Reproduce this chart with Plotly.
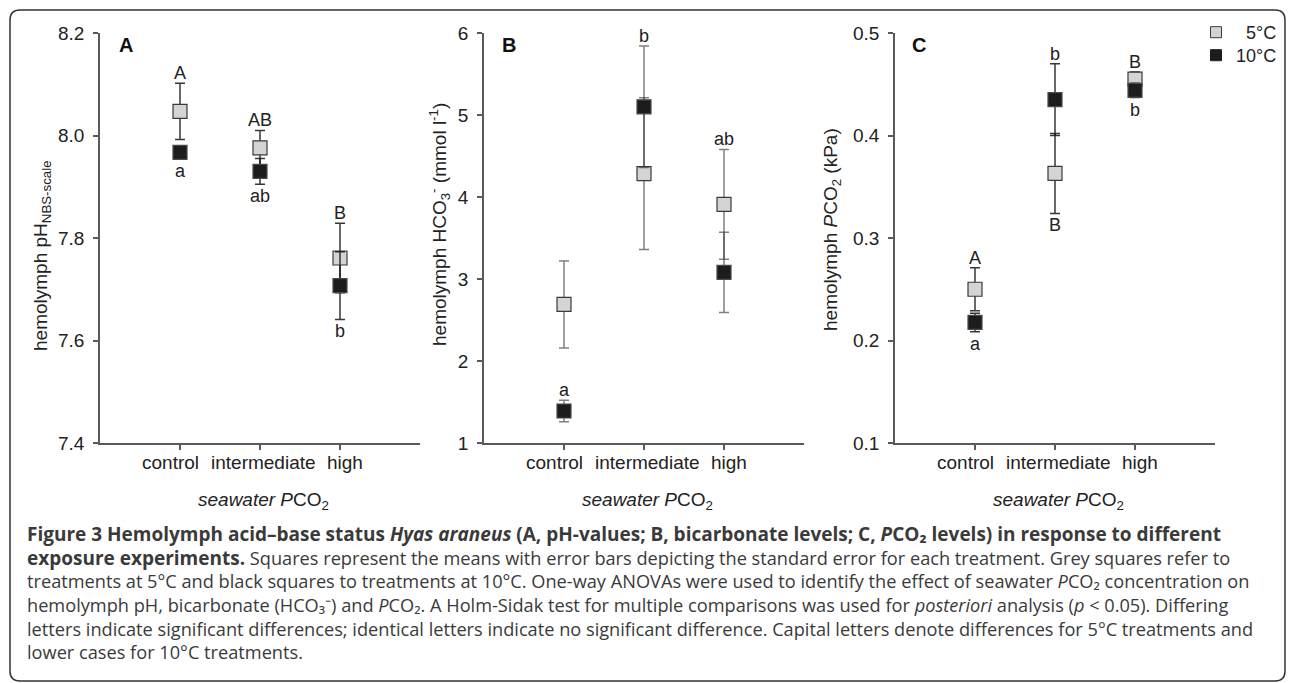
import plotly.graph_objects as go

W, H = 1290, 683

# ---------------- data ----------------
categories = ["control", "intermediate", "high"]
cat_pos = [1, 2, 3]

ph_5 = [8.047, 7.976, 7.761]
ph_5_se = [0.055, 0.034, 0.068]
ph_10 = [7.967, 7.930, 7.707]
ph_10_se = [0.012, 0.025, 0.066]

hco3_5 = [2.69, 4.285, 3.91]
hco3_5_se = [0.53, 0.925, 0.67]
hco3_10 = [1.39, 5.10, 3.08]
hco3_10_se = [0.13, 0.74, 0.49]

pco2_5 = [0.250, 0.363, 0.455]
pco2_5_se = [0.021, 0.039, 0.007]
pco2_10 = [0.2176, 0.435, 0.444]
pco2_10_se = [0.009, 0.035, 0.007]

# significance letters: (series, category index, side, text)
letters_A = [("5", 0, "above", "A"), ("10", 0, "below", "a"),
             ("5", 1, "above", "AB"), ("10", 1, "below", "ab"),
             ("5", 2, "above", "B"), ("10", 2, "below", "b")]
letters_B = [("10", 0, "above", "a"), ("10", 1, "above", "b"),
             ("5", 2, "above", "ab")]
letters_C = [("5", 0, "above", "A"), ("10", 0, "below", "a"),
             ("10", 1, "above", "b"), ("5", 1, "below", "B"),
             ("5", 2, "above", "B"), ("10", 2, "below", "b")]

y_ranges = [[7.4, 8.2], [1, 6], [0.1, 0.5]]
y_ticks = [[7.4, 7.6, 7.8, 8.0, 8.2], [1, 2, 3, 4, 5, 6], [0.1, 0.2, 0.3, 0.4, 0.5]]
y_ticktext = [["7.4", "7.6", "7.8", "8.0", "8.2"], ["1", "2", "3", "4", "5", "6"],
              ["0.1", "0.2", "0.3", "0.4", "0.5"]]
y_titles = ["hemolymph pH<sub>NBS-scale</sub>",
            "hemolymph HCO<sub>3</sub><sup>-</sup> (mmol l<sup>-1</sup>)",
            "hemolymph <i>P</i>CO<sub>2</sub> (kPa)"]
panel_labels = ["A", "B", "C"]
x_title = "<i>seawater P</i>CO<sub>2</sub>"
legend_names = ["\u20075°C", "10°C"]

BOLD = '<span style="font-size:19px"><b>{}</b></span>'
caption_lines = [
    BOLD.format("Figure 3 Hemolymph acid–base status <i>Hyas araneus</i> (A, pH-values; B, bicarbonate levels; C, <i>P</i>CO₂ levels) in response to different"),
    BOLD.format("exposure experiments.") + " Squares represent the means with error bars depicting the standard error for each treatment. Grey squares refer to",
    "treatments at 5°C and black squares to treatments at 10°C. One-way ANOVAs were used to identify the effect of seawater <i>P</i>CO₂ concentration on",
    "hemolymph pH, bicarbonate (HCO₃⁻) and <i>P</i>CO₂. A Holm-Sidak test for multiple comparisons was used for <i>posteriori</i> analysis (<i>p</i> &lt; 0.05). Differing",
    "letters indicate significant differences; identical letters indicate no significant difference. Capital letters denote differences for 5°C treatments and",
    "lower cases for 10°C treatments.",
]

# ---------------- layout helpers (pixel -> paper) ----------------
def fx(p):
    return p / W

def fy(p):
    return 1 - p / H

# category labels are set as one spaced line of text under the ticks
cat_label_shift = [-10, 3, 5]

panel_x = [(100, 420), (484, 804), (895, 1215)]
plot_top, plot_bottom = 33, 443

FONT = "Liberation Sans, Arial, sans-serif"
GREY_FILL = "#d4d4d4"
BLACK_FILL = "#1c1c1c"
err_colors = ["rgba(20,20,20,0.85)", "rgba(50,50,50,0.62)", "rgba(20,20,20,0.85)"]

series = [
    (ph_5, ph_5_se, ph_10, ph_10_se, letters_A),
    (hco3_5, hco3_5_se, hco3_10, hco3_10_se, letters_B),
    (pco2_5, pco2_5_se, pco2_10, pco2_10_se, letters_C),
]

fig = go.Figure()
annotations = []

for i, (v5, s5, v10, s10, letters) in enumerate(series):
    xa = "x" if i == 0 else f"x{i+1}"
    ya = "y" if i == 0 else f"y{i+1}"
    for vals, se, fill, line in [(v5, s5, GREY_FILL, "#3a3a3a"), (v10, s10, BLACK_FILL, "#4a4a4a")]:
        fig.add_trace(go.Scatter(
            x=cat_pos, y=vals, mode="markers", xaxis=xa, yaxis=ya, showlegend=False,
            marker=dict(symbol="square", size=14, color=fill, line=dict(color=line, width=1.2)),
            error_y=dict(type="data", array=se, visible=True, color=err_colors[i],
                         thickness=1.5, width=5),
        ))
    for ser, idx, side, txt in letters:
        vals, se = (v5, s5) if ser == "5" else (v10, s10)
        yv = vals[idx] + se[idx] if side == "above" else vals[idx] - se[idx]
        annotations.append(dict(
            x=cat_pos[idx], y=yv, xref=xa, yref=ya, text=txt, showarrow=False,
            yanchor="middle", yshift=10 if side == "above" else -12,
            font=dict(family=FONT, size=18, color="#222"),
        ))
    # category labels under the x axis
    for pos, lab, sh in zip(cat_pos, categories, cat_label_shift):
        annotations.append(dict(
            x=pos, y=fy(462), xref=xa, yref="paper", text=lab, showarrow=False,
            xanchor="center", yanchor="middle", xshift=sh,
            font=dict(family=FONT, size=19, color="#222"),
        ))
    x0, x1 = panel_x[i]
    axx = dict(domain=[fx(x0), fx(x1)], range=[0, 4], tickvals=cat_pos, showticklabels=False,
               showline=True, linecolor="#5a5a5a", linewidth=1.5, ticks="outside",
               ticklen=5, tickwidth=1.5, tickcolor="#5a5a5a", showgrid=False, zeroline=False,
               anchor=ya, fixedrange=True)
    axy = dict(domain=[fy(plot_bottom), fy(plot_top)], range=y_ranges[i], tickvals=y_ticks[i],
               ticktext=y_ticktext[i], showline=True, linecolor="#5a5a5a", linewidth=1.5,
               ticks="outside", ticklen=5, tickwidth=1.5, tickcolor="#5a5a5a",
               showgrid=False, zeroline=False, anchor=xa, ticklabelstandoff=5,
               tickfont=dict(family=FONT, size=19, color="#222"), fixedrange=True)
    fig.layout["xaxis" if i == 0 else f"xaxis{i+1}"] = axx
    fig.layout["yaxis" if i == 0 else f"yaxis{i+1}"] = axy

# legend-only entries, each in its own legend box for exact spacing
for name, fill, line, lg in [(legend_names[0], GREY_FILL, "#3a3a3a", "legend"),
                             (legend_names[1], BLACK_FILL, "#1c1c1c", "legend2")]:
    fig.add_trace(go.Scatter(x=[None], y=[None], mode="markers", name=name, xaxis="x3", yaxis="y3",
                             legend=lg,
                             marker=dict(symbol="square", size=11, color=fill, line=dict(color=line, width=1))))

# panel labels
for lbl, cx in zip(panel_labels, [126, 509, 919]):
    annotations.append(dict(x=fx(cx), y=fy(45), xref="paper", yref="paper", text=f"<b>{lbl}</b>",
                            showarrow=False, xanchor="center", yanchor="middle",
                            font=dict(family=FONT, size=20, color="#111")))

# y titles
for t, (cx, cy) in zip(y_titles, [(42, 256), (440, 225), (832, 230)]):
    annotations.append(dict(x=fx(cx), y=fy(cy), xref="paper", yref="paper", text=t, textangle=-90,
                            showarrow=False, xanchor="center", yanchor="middle",
                            font=dict(family=FONT, size=19, color="#222")))

# x titles
for cx in [263, 647, 1058]:
    annotations.append(dict(x=fx(cx), y=fy(501), xref="paper", yref="paper", text=x_title,
                            showarrow=False, xanchor="center", yanchor="middle",
                            font=dict(family=FONT, size=19, color="#222")))

# caption (one multi-line text block)
annotations.append(dict(x=fx(25), y=fy(592), xref="paper", yref="paper",
                        text="<br>".join(caption_lines),
                        showarrow=False, xanchor="left", yanchor="middle", align="left",
                        font=dict(family="Open Sans, sans-serif", size=18.2, color="#3a3a3a")))

# rounded frame
x0, x1, y0, y1, r = 10, 1285, 10, 681, 10
def P(px, py):
    return f"{fx(px):.5f},{fy(py):.5f}"
path = (f"M {P(x0, y0 + r)} L {P(x0, y1 - r)} Q {P(x0, y1)} {P(x0 + r, y1)} "
        f"L {P(x1 - r, y1)} Q {P(x1, y1)} {P(x1, y1 - r)} L {P(x1, y0 + r)} "
        f"Q {P(x1, y0)} {P(x1 - r, y0)} L {P(x0 + r, y0)} Q {P(x0, y0)} {P(x0, y0 + r)} Z")

legend_common = dict(xanchor="left", yanchor="top", bgcolor="rgba(0,0,0,0)",
                     font=dict(family=FONT, size=18, color="#222"),
                     itemclick=False, itemdoubleclick=False)

fig.update_layout(
    width=W, height=H, margin=dict(l=0, r=0, t=0, b=0, pad=0, autoexpand=False),
    paper_bgcolor="white", plot_bgcolor="white",
    annotations=annotations,
    shapes=[dict(type="path", path=path, xref="paper", yref="paper",
                 line=dict(color="#333", width=1.5), layer="below")],
    legend=dict(x=fx(1196), y=fy(14), **legend_common),
    legend2=dict(x=fx(1196), y=fy(37), **legend_common),
    showlegend=True,
)

post = ("document.documentElement.style.margin='0';document.body.style.margin='0';"
        "document.documentElement.style.overflow='hidden';"
        "var g=document.querySelector('.plotly-graph-div');"
        "g.style.position='fixed';g.style.left='0px';g.style.top='0px';")

fig.write_html("out.html", post_script=post, config={"displayModeBar": False})
